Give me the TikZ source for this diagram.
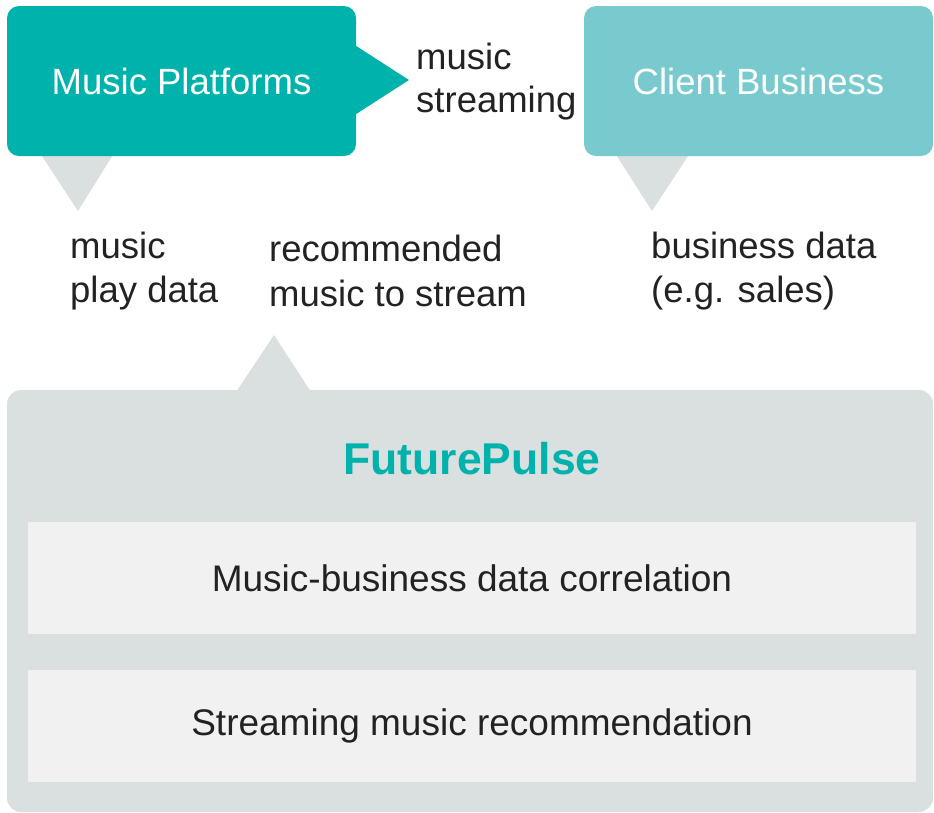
\documentclass[tikz,border=0pt]{standalone}
\usepackage{fontspec}
\setmainfont{Liberation Sans}
\usetikzlibrary{positioning}
\definecolor{pulseteal}{HTML}{00B2AC}
\definecolor{clientteal}{HTML}{78CACE}
\definecolor{pulsegray}{HTML}{DAE0E0}
\definecolor{panelgray}{HTML}{F1F1F1}
\definecolor{inkgray}{HTML}{222222}
\begin{document}
\begin{tikzpicture}[x=1pt,y=-1pt,
	box/.style={rounded corners=12pt,minimum width=349pt,minimum height=150pt,inner sep=0pt,text=white,font=\fontsize{36.5}{40}\selectfont},
	tag/.style={anchor=west,align=left,inner sep=0pt,text=inkgray,font=\fontsize{36.5}{44.5}\selectfont},
	panel/.style={fill=panelgray,minimum width=888pt,minimum height=112pt,inner sep=0pt,text=inkgray,font=\fontsize{37}{40}\selectfont}]
	\useasboundingbox (0,0) rectangle (934,812);
	\fill[pulsegray] (38,150) -- (78,211) -- (116,150) -- cycle;
	\fill[pulsegray] (613,150) -- (652,211) -- (692,150) -- cycle;
	\fill[pulsegray] (234,395) -- (274,335) -- (313,395) -- cycle;
	\fill[pulseteal] (350,42) -- (409,80) -- (350,118) -- cycle;
	\node[box,fill=pulseteal] (platforms) at (181.5,81) {Music Platforms};
	\node[box,fill=clientteal] (client) at (758.5,81) {Client Business};
	\node[tag,font=\fontsize{36.5}{43}\selectfont] (streaming) at (416,82) {music\\streaming};
	\node[tag] (playdata) at (70,271) {music\\play data};
	\node[tag] (recommended) at (269,271) {recommended\\music to stream};
	\node[tag] (business) at (651,271) {business data\\(e.g. sales)};
	\node[fill=pulsegray,rounded corners=14pt,minimum width=926pt,minimum height=422pt,inner sep=0pt] (pulse) at (470,601) {};
	\node[text=pulseteal,font=\fontsize{44.5}{50}\selectfont\bfseries] (title) at (472,459) {FuturePulse};
	\node[panel] (correlation) at (472,578) {Music-business data correlation};
	\node[panel] (recommendation) at (472,726) {Streaming music recommendation};
\end{tikzpicture}
\end{document}
